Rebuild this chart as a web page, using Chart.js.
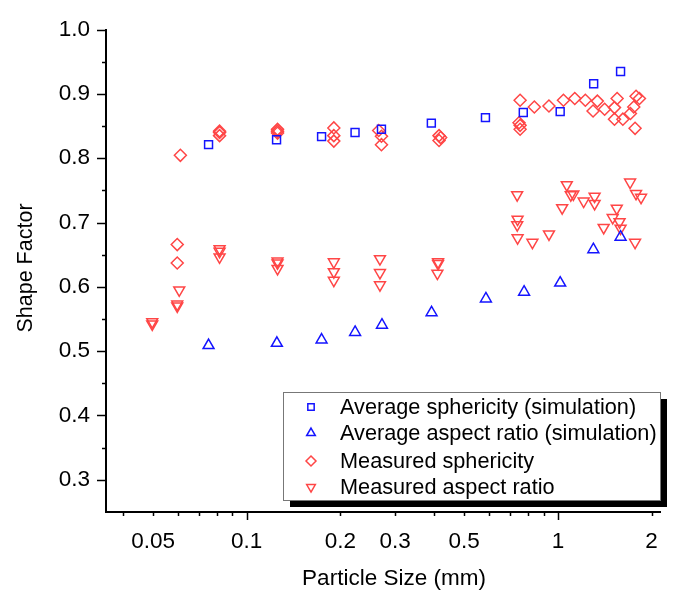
<!DOCTYPE html>
<html>
<head>
<meta charset="utf-8">
<script src="https://cdn.jsdelivr.net/npm/chart.js@4.4.1/dist/chart.umd.min.js"></script>
<style>
  body { margin: 0; background: #fff; }
  #wrap { width: 674px; height: 594px; }
</style>
</head>
<body>
<div id="wrap"><canvas id="shapeChart" width="674" height="594"></canvas></div>
<script>
// ---- data ----
var simSphX = [0.0754, 0.1247, 0.174, 0.2229, 0.271, 0.392, 0.585, 0.774, 1.017, 1.303, 1.59];
var simSphY = [0.821, 0.8285, 0.8335, 0.840, 0.845, 0.8545, 0.863, 0.871, 0.8724, 0.9158, 0.9346];

var simArX = [0.0754, 0.125, 0.174, 0.223, 0.272, 0.3927, 0.587, 0.7786, 1.017, 1.30, 1.59];
var simArY = [0.509, 0.5125, 0.5176, 0.5294, 0.5406, 0.560, 0.5815, 0.592, 0.606, 0.658, 0.6775];

var measSphX = [0.0612, 0.0598, 0.0598, 0.0818, 0.0818, 0.0818, 0.1256, 0.1256, 0.1256,
  0.1905, 0.1905, 0.1905, 0.2655, 0.271, 0.271, 0.415, 0.415, 0.42,
  0.756, 0.75, 0.756, 0.756, 0.84, 0.936, 1.042, 1.133, 1.225, 1.297, 1.339, 1.413,
  1.52, 1.55, 1.52, 1.617, 1.71, 1.753, 1.783, 1.828, 1.77];
var measSphY = [0.8044, 0.6657, 0.637, 0.842, 0.840, 0.835, 0.845, 0.842, 0.839,
  0.847, 0.835, 0.8265, 0.843, 0.834, 0.821, 0.835, 0.8275, 0.832,
  0.890, 0.855, 0.851, 0.845, 0.8795, 0.881, 0.890, 0.8928, 0.890, 0.8734, 0.8887, 0.876,
  0.8786, 0.8928, 0.8606, 0.8606, 0.8694, 0.8795, 0.8963, 0.8928, 0.8464];

var measArX = [0.0497, 0.0497, 0.0598, 0.0598, 0.0607, 0.0818, 0.0818, 0.0818,
  0.1256, 0.1256, 0.1256, 0.1905, 0.1905, 0.1905, 0.268, 0.268, 0.268,
  0.412, 0.412, 0.41, 0.7396, 0.742, 0.74, 0.742, 0.828, 0.936, 1.068, 1.1, 1.121,
  1.032, 1.21, 1.312, 1.312, 1.546, 1.403, 1.50, 1.578, 1.59, 1.706, 1.783, 1.85, 1.77];
var measArY = [0.5455, 0.542, 0.573, 0.570, 0.595, 0.659, 0.655, 0.6463,
  0.640, 0.637, 0.6283, 0.6386, 0.6233, 0.610, 0.6436, 0.622, 0.603,
  0.6386, 0.636, 0.621, 0.743, 0.705, 0.6963, 0.676, 0.669, 0.682, 0.7585, 0.743, 0.744,
  0.7228, 0.733, 0.7407, 0.7294, 0.722, 0.692, 0.7075, 0.701, 0.691, 0.7626, 0.745, 0.739, 0.669];

var seriesNames = ["Average sphericity (simulation)", "Average aspect ratio (simulation)",
  "Measured sphericity", "Measured aspect ratio"];

var xTickValues = [0.04, 0.05, 0.06, 0.07, 0.08, 0.09, 0.1, 0.2, 0.3, 0.4, 0.5, 0.6, 0.7, 0.8, 0.9, 1, 2];
var xTickLabels = { 0.05: "0.05", 0.1: "0.1", 0.2: "0.2", 0.3: "0.3", 0.5: "0.5", 1: "1", 2: "2" };
var yTickValues = [0.3, 0.35, 0.4, 0.45, 0.5, 0.55, 0.6, 0.65, 0.7, 0.75, 0.8, 0.85, 0.9, 0.95, 1.0];

var BLUE = "rgb(20,20,255)";
var RED = "rgb(255,70,70)";
var FONT = "'Liberation Sans', Arial, sans-serif";

function pts(xs, ys) {
  return xs.map(function (x, i) { return { x: x, y: ys[i] }; });
}

// small marker painter for the legend
function drawMarker(ctx, style, x, y, r, color) {
  ctx.save();
  ctx.strokeStyle = color;
  ctx.lineWidth = 1.5;
  ctx.beginPath();
  if (style === "rect") {
    var h = r * Math.SQRT1_2;
    ctx.rect(x - h, y - h, 2 * h, 2 * h);
  } else if (style === "rectRot") {
    ctx.moveTo(x, y - r); ctx.lineTo(x + r, y); ctx.lineTo(x, y + r); ctx.lineTo(x - r, y); ctx.closePath();
  } else if (style === "up") {
    ctx.moveTo(x, y - r); ctx.lineTo(x + r * 0.866, y + r / 2); ctx.lineTo(x - r * 0.866, y + r / 2); ctx.closePath();
  } else {
    ctx.moveTo(x, y + r); ctx.lineTo(x + r * 0.866, y - r / 2); ctx.lineTo(x - r * 0.866, y - r / 2); ctx.closePath();
  }
  ctx.stroke();
  ctx.restore();
}

var decorations = {
  id: "decorations",
  afterDraw: function (chart) {
    var ctx = chart.ctx;
    var xs = chart.scales.x, ys = chart.scales.y;
    var area = chart.chartArea;
    ctx.save();
    ctx.strokeStyle = "#000";
    ctx.lineWidth = 1.5;
    // y tick marks (outside)
    yTickValues.forEach(function (v) {
      var py = Math.round(ys.getPixelForValue(v)) + 0.5;
      var major = Math.abs(v * 10 - Math.round(v * 10)) < 1e-6;
      var len = major ? 9 : 4;
      ctx.beginPath();
      ctx.moveTo(area.left - len, py);
      ctx.lineTo(area.left, py);
      ctx.stroke();
    });
    // x tick marks (outside)
    xTickValues.forEach(function (v) {
      var px = Math.round(xs.getPixelForValue(v)) + 0.5;
      var major = (v === 0.1 || v === 1);
      var len = major ? 8 : 4;
      ctx.beginPath();
      ctx.moveTo(px, area.bottom);
      ctx.lineTo(px, area.bottom + len);
      ctx.stroke();
    });

    // axis titles
    ctx.fillStyle = "#000";
    ctx.font = "22.5px " + FONT;
    ctx.textAlign = "center";
    ctx.textBaseline = "middle";
    ctx.fillText("Particle Size (mm)", 394, 579);
    ctx.save();
    ctx.translate(26, 268);
    ctx.rotate(-Math.PI / 2);
    ctx.font = "21.5px " + FONT;
    ctx.fillText("Shape Factor", 0, 0);
    ctx.restore();

    // legend box with drop shadow
    var bx = 283, by = 392, bw = 377, bh = 108;
    ctx.fillStyle = "#000";
    ctx.fillRect(bx + 7, by + 7, bw, bh);
    ctx.fillStyle = "#fff";
    ctx.fillRect(bx, by, bw, bh);
    ctx.strokeStyle = "#777";
    ctx.lineWidth = 1;
    ctx.strokeRect(bx + 0.5, by + 0.5, bw, bh);

    var styles = ["rect", "up", "rectRot", "down"];
    var colors = [BLUE, BLUE, RED, RED];
    var sizes = [4.5, 5, 5, 5];
    var rows = [407, 433, 461, 487];
    ctx.font = "21.7px " + FONT;
    ctx.textAlign = "left";
    ctx.textBaseline = "middle";
    for (var i = 0; i < 4; i++) {
      drawMarker(ctx, styles[i], 311, rows[i], sizes[i], colors[i]);
      ctx.fillStyle = "#000";
      ctx.fillText(seriesNames[i], 340, rows[i] + 1);
    }
    ctx.restore();
  }
};

document.addEventListener("DOMContentLoaded", function () {
  new Chart(document.getElementById("shapeChart"), {
    type: "scatter",
    data: {
      datasets: [
        { label: seriesNames[0], data: pts(simSphX, simSphY), pointStyle: "rect", radius: 5.6,
          borderColor: BLUE, backgroundColor: "rgba(0,0,0,0)", borderWidth: 1.5 },
        { label: seriesNames[1], data: pts(simArX, simArY), pointStyle: "triangle", radius: 6.3,
          borderColor: BLUE, backgroundColor: "rgba(0,0,0,0)", borderWidth: 1.5 },
        { label: seriesNames[2], data: pts(measSphX, measSphY), pointStyle: "rectRot", radius: 6,
          borderColor: RED, backgroundColor: "rgba(0,0,0,0)", borderWidth: 1.5 },
        { label: seriesNames[3], data: pts(measArX, measArY), pointStyle: "triangle", rotation: 180, radius: 6.3,
          borderColor: RED, backgroundColor: "rgba(0,0,0,0)", borderWidth: 1.5 }
      ]
    },
    options: {
      responsive: false,
      animation: false,
      events: [],
      layout: { padding: { top: 24, right: 11, left: 0, bottom: 0 } },
      plugins: { legend: { display: false }, tooltip: { enabled: false } },
      scales: {
        x: {
          type: "logarithmic",
          min: 0.0353,
          max: 2.13,
          grid: { display: false, drawTicks: false },
          border: { display: true, color: "#000", width: 2 },
          afterBuildTicks: function (scale) {
            scale.ticks = xTickValues.map(function (v) { return { value: v }; });
          },
          afterFit: function (scale) { scale.height = 82; },
          ticks: {
            autoSkip: false, maxRotation: 0, padding: 16, color: "#000",
            font: { size: 22.5, family: FONT },
            callback: function (value) { return xTickLabels[value] || ""; }
          }
        },
        y: {
          type: "linear",
          min: 0.25,
          max: 1.0,
          grid: { display: false, drawTicks: false },
          border: { display: true, color: "#000", width: 2 },
          afterBuildTicks: function (scale) {
            scale.ticks = yTickValues.map(function (v) { return { value: v }; });
          },
          afterFit: function (scale) { scale.width = 106; },
          ticks: {
            padding: 16, color: "#000",
            font: { size: 22.5, family: FONT },
            callback: function (value) {
              var major = Math.abs(value * 10 - Math.round(value * 10)) < 1e-6;
              return major ? value.toFixed(1) : "";
            }
          }
        }
      }
    },
    plugins: [decorations]
  });
});
</script>
</body>
</html>
